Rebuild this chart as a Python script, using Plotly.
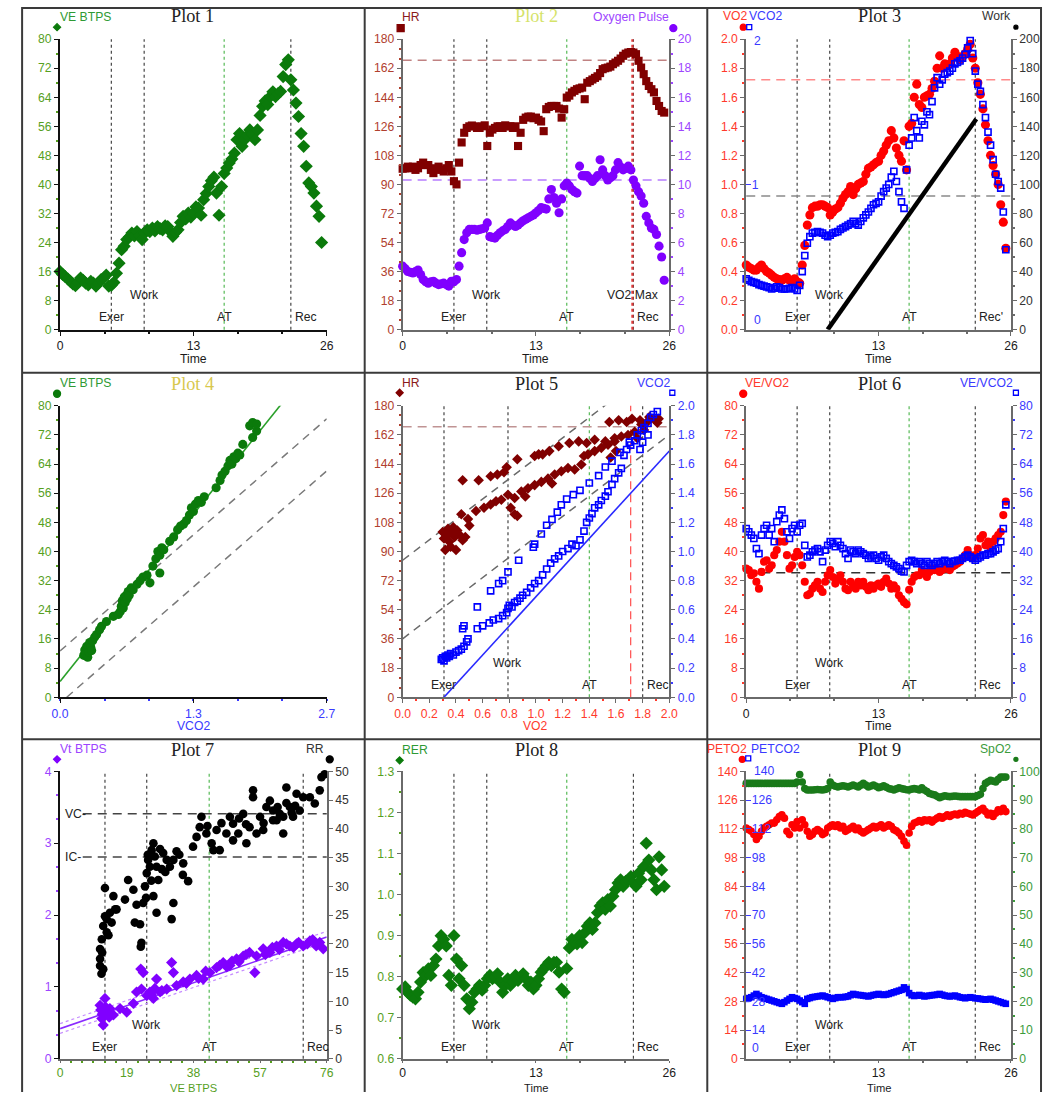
import plotly.graph_objects as go

# ---------------------------------------------------------------
# Cardiopulmonary exercise test, 9-panel summary
# ---------------------------------------------------------------

# sample times (min)
TIME = [
    0.0, 0.25, 0.5, 0.75, 1.0, 1.25, 1.5, 1.75, 2.0, 2.25, 2.5, 2.75,
    3.0, 3.25, 3.5, 3.75, 4.0, 4.25, 4.5, 4.75, 5.0, 5.25, 5.5, 5.75,
    6.0, 6.25, 6.5, 6.75, 7.0, 7.25, 7.5, 7.75, 8.0, 8.25, 8.5, 8.75,
    9.0, 9.25, 9.5, 9.75, 10.0, 10.25, 10.5, 10.75, 11.0, 11.25, 11.5, 11.75,
    12.0, 12.25, 12.5, 12.75, 13.0, 13.25, 13.5, 13.75, 14.0, 14.25, 14.5, 14.75,
    15.0, 15.25, 15.5, 15.75, 16.0, 16.25, 16.5, 16.75, 17.0, 17.25, 17.5, 17.75,
    18.0, 18.25, 18.5, 18.75, 19.0, 19.25, 19.5, 19.75, 20.0, 20.25, 20.5, 20.75,
    21.0, 21.25, 21.5, 21.75, 22.0, 22.25, 22.5, 22.75, 23.0, 23.25, 23.5, 23.75,
    24.0, 24.25, 24.5, 24.75, 25.0, 25.25, 25.5,
]

VE_BTPS = [
    16.0, 15.2, 14.6, 14.0, 13.3, 12.6, 12.1, 13.0, 14.2, 13.6, 12.8, 12.3,
    13.3, 12.8, 12.0, 12.8, 13.8, 14.2, 15.0, 12.0, 12.2, 13.0, 15.5, 18.3,
    22.0, 23.0, 24.8, 25.5, 26.6, 25.8, 27.0, 26.0, 24.8, 26.6, 27.5, 27.0,
    28.0, 27.2, 28.4, 27.8, 27.5, 28.6, 28.4, 27.0, 25.7, 26.8, 27.5, 29.5,
    31.2, 30.5, 32.1, 31.0, 32.0, 33.8, 33.5, 31.5, 35.8, 37.5, 39.4, 41.0,
    42.0, 37.6, 31.5, 39.4, 43.0, 44.5, 45.9, 47.0, 48.6, 52.3, 54.0, 50.5,
    52.3, 53.5, 55.0, 53.8, 52.3, 55.0, 59.0, 61.5, 63.0, 62.0, 64.2, 65.5,
    64.2, 65.0, 65.6, 69.7, 73.0, 74.3, 68.8, 66.0, 62.4, 58.7, 54.0, 50.5,
    45.0, 40.4, 39.4, 37.6, 34.0, 31.2, 24.0,
]

HR = [
    99.7, 100, 101, 100, 101, 99, 100, 102, 103.5, 102, 102, 99,
    97, 100, 101, 99, 98, 100, 102, 98, 92, 90, 103.5, 116,
    122, 125, 126, 126.5, 126, 125, 125, 126, 126.6, 113.8, 122, 124,
    125, 126, 126, 125, 126.6, 126, 126, 125, 126, 113.8, 122, 130,
    131.4, 132, 132, 131, 131.4, 130, 129, 123, 136.6, 138, 138.6, 138.6,
    138.6, 137, 131.4, 136.6, 143.8, 145, 147, 148, 149, 149.5, 150, 142.8,
    153, 154, 155, 156, 157, 159, 161.4, 162, 162.4, 163, 164.5, 165.5,
    166.6, 168, 169.7, 171, 171.7, 172, 171.7, 170.7, 166.6, 162.4, 158.3, 154,
    151, 149, 147, 141.7, 138.6, 135.5, 134.5,
]

O2_PULSE = [
    4.37, 4.2, 4.0, 3.95, 3.9, 4.0, 4.1, 3.8, 3.45, 3.3, 3.2, 3.3,
    3.33, 3.2, 3.1, 3.15, 3.2, 3.1, 3.0, 3.33, 3.3, 3.45, 4.37, 5.3,
    6.2, 6.67, 6.9, 6.9, 6.9, 6.85, 6.9, 6.95, 7.0, 7.35, 6.4, 6.35,
    6.3, 6.5, 6.67, 6.8, 6.9, 7.1, 7.35, 7.2, 7.1, 7.2, 7.35, 7.5,
    7.6, 7.7, 7.8, 7.9, 8.05, 8.2, 8.4, 8.35, 8.3, 9.0, 9.65, 9.1,
    8.7, 8.05, 9.0, 9.9, 10.1, 9.9, 9.65, 9.5, 9.4, 11.26, 10.6, 10.6,
    10.6, 10.4, 10.2, 10.4, 10.6, 11.7, 11.0, 10.6, 10.3, 10.45, 10.6, 11.0,
    11.5, 11.2, 11.0, 11.1, 11.26, 11.0, 10.3, 9.9, 9.5, 9.2, 8.7, 7.8,
    7.35, 7.0, 6.9, 6.55, 5.75, 5.0, 3.4,
]

VO2 = [
    0.445, 0.43, 0.42, 0.41, 0.41, 0.43, 0.445, 0.42, 0.40, 0.39, 0.375, 0.36,
    0.35, 0.345, 0.34, 0.35, 0.36, 0.34, 0.33, 0.35, 0.33, 0.32, 0.445, 0.58,
    0.72, 0.79, 0.84, 0.85, 0.85, 0.86, 0.86, 0.85, 0.84, 0.79, 0.81, 0.83,
    0.84, 0.87, 0.905, 0.93, 0.95, 0.985, 0.93, 0.97, 1.0, 1.01, 1.02, 1.07,
    1.11, 1.12, 1.135, 1.15, 1.16, 1.2, 1.23, 1.27, 1.30, 1.37, 1.32, 1.25,
    1.2, 1.16, 1.30, 1.10, 1.40, 1.42, 1.60, 1.69, 1.55, 1.53, 1.60, 1.61,
    1.62, 1.66, 1.71, 1.80, 1.885, 1.80, 1.83, 1.82, 1.83, 1.87, 1.91, 1.88,
    1.86, 1.88, 1.90, 1.93, 1.965, 1.87, 1.80, 1.70, 1.62, 1.52, 1.41, 1.30,
    1.20, 1.13, 1.07, 1.00, 0.86, 0.74, 0.56,
]

VCO2 = [
    0.35, 0.34, 0.33, 0.325, 0.32, 0.31, 0.305, 0.30, 0.295, 0.29, 0.28, 0.285,
    0.295, 0.29, 0.28, 0.28, 0.28, 0.285, 0.29, 0.28, 0.27, 0.305, 0.40, 0.51,
    0.595, 0.64, 0.665, 0.67, 0.675, 0.67, 0.665, 0.65, 0.64, 0.65, 0.665, 0.67,
    0.675, 0.69, 0.70, 0.71, 0.72, 0.73, 0.745, 0.73, 0.72, 0.745, 0.77, 0.79,
    0.81, 0.835, 0.86, 0.87, 0.88, 0.92, 0.95, 0.975, 1.0, 1.05, 1.09, 1.02,
    0.95, 0.88, 0.835, 1.10, 1.27, 1.32, 1.46, 1.37, 1.32, 1.435, 1.41, 1.50,
    1.48, 1.57, 1.665, 1.735, 1.69, 1.72, 1.76, 1.77, 1.78, 1.80, 1.83, 1.84,
    1.85, 1.87, 1.895, 1.94, 1.99, 1.90, 1.78, 1.69, 1.64, 1.55, 1.46, 1.36,
    1.27, 1.17, 1.07, 1.02, 0.975, 0.81, 0.55,
]

# protocol work ramp (min, W)
WORK_T = [8.0, 22.6]
WORK_W = [0, 145]

VE_VO2 = [
    35.3, 34.9, 33.5, 34.0, 31.7, 29.8, 34.4, 37.2, 37.6, 35.3, 36.2, 39.0,
    40.4, 42.7, 45.4, 42.7, 39.0, 35.3, 36.2, 38.5, 39.9, 39.0, 36.2, 31.7,
    28.0, 28.4, 29.8, 30.7, 31.7, 29.8, 28.9, 31.7, 33.5, 34.9, 33.0, 31.2,
    32.6, 33.5, 31.7, 29.8, 29.4, 31.7, 30.7, 29.8, 31.7, 30.7, 31.7, 30.3,
    29.4, 30.7, 29.8, 30.7, 31.2, 30.3, 31.7, 32.6, 31.2, 29.8, 30.7, 29.8,
    28.0, 27.0, 26.1, 25.5, 29.5, 31.7, 33.0, 33.5, 33.5, 34.9, 34.0, 33.0,
    34.4, 35.3, 34.9, 35.3, 34.4, 34.9, 35.8, 35.3, 34.9, 35.8, 36.2, 36.7,
    37.2, 38.1, 39.0, 40.4, 39.0, 38.1, 39.0, 40.8, 43.6, 44.5, 41.7, 42.7,
    40.8, 42.7, 43.6, 44.5, 45.4, 50.0, 53.7,
]

VE_VCO2 = [
    46.3, 45.4, 44.5, 43.6, 40.8, 39.4, 44.5, 46.3, 47.2, 44.5, 46.3, 42.7,
    48.2, 50.0, 51.4, 49.0, 45.4, 43.6, 46.3, 47.2, 45.4, 47.2, 47.7, 41.7,
    38.5, 39.0, 39.9, 40.4, 40.8, 39.9, 37.2, 40.4, 41.7, 42.7, 42.2, 41.3,
    42.7, 41.7, 40.8, 39.4, 38.1, 40.4, 39.9, 39.4, 40.4, 39.9, 39.4, 39.0,
    38.1, 38.5, 39.0, 38.1, 37.6, 38.5, 39.0, 38.1, 37.2, 36.7, 36.2, 35.8,
    35.3, 34.6, 34.4, 36.2, 37.2, 37.6, 37.2, 36.7, 37.2, 36.7, 36.2, 37.2,
    36.7, 36.2, 36.7, 37.2, 36.7, 37.2, 37.6, 37.2, 36.7, 37.2, 37.4, 37.6,
    37.6, 38.1, 38.5, 39.0, 38.5, 38.1, 37.6, 38.1, 38.5, 39.0, 39.0, 39.4,
    39.4, 39.9, 40.4, 40.8, 42.7, 46.3, 52.8,
]

RER = [
    0.770, 0.775, 0.762, 0.755, 0.750, 0.746, 0.762, 0.787, 0.810, 0.803, 0.819, 0.803,
    0.827, 0.843, 0.875, 0.900, 0.891, 0.875, 0.803, 0.779, 0.900, 0.843, 0.795, 0.827,
    0.779, 0.746, 0.722, 0.738, 0.762, 0.770, 0.779, 0.767, 0.779, 0.795, 0.803, 0.795,
    0.799, 0.807, 0.787, 0.762, 0.779, 0.795, 0.779, 0.787, 0.803, 0.791, 0.799, 0.807,
    0.795, 0.779, 0.787, 0.770, 0.779, 0.795, 0.811, 0.819, 0.827, 0.835, 0.827, 0.835,
    0.835, 0.811, 0.770, 0.762, 0.820, 0.870, 0.891, 0.883, 0.880, 0.900, 0.883, 0.907,
    0.923, 0.931, 0.915, 0.931, 0.956, 0.972, 0.980, 0.964, 0.988, 0.972, 0.996, 1.012,
    1.028, 1.036, 1.020, 1.032, 1.036, 1.044, 1.028, 1.020, 1.052, 1.036, 1.068, 1.125,
    1.084, 1.060, 1.036, 1.012, 1.092, 1.060, 1.020,
]

PETO2 = [
    112.4, 111.6, 110.8, 109.2, 106.8, 108.4, 110.8, 112.4, 113.2, 114.0, 114.8, 114.8,
    116.4, 118.0, 118.8, 117.2, 110.8, 109.2, 114.0, 112.4, 115.6, 112.4, 116.4, 114.0,
    110.8, 108.4, 109.2, 110.8, 111.6, 110.8, 109.2, 110.0, 112.4, 113.2, 114.0, 113.2,
    114.0, 112.4, 113.2, 110.8, 111.6, 112.4, 113.2, 111.6, 112.4, 110.8, 110.0, 110.8,
    111.6, 112.4, 113.2, 112.4, 113.2, 114.0, 112.4, 113.2, 114.0, 113.2, 111.6, 111.0,
    110.0, 108.4, 106.0, 104.0, 110.0, 113.2, 114.8, 115.3, 116.0, 115.3, 116.4, 116.0,
    116.4, 115.3, 116.4, 117.2, 118.0, 117.2, 118.0, 118.8, 118.0, 118.8, 119.2, 118.8,
    119.6, 119.2, 120.0, 119.6, 119.2, 118.8, 119.6, 120.4, 121.3, 122.0, 120.4, 118.8,
    119.6, 118.0, 119.6, 121.3, 120.4, 122.0, 120.4,
]

PETCO2 = [
    29.2, 29.6, 30.0, 30.8, 31.6, 30.8, 30.0, 29.6, 29.2, 28.8, 28.4, 28.0,
    27.6, 27.2, 26.8, 27.6, 28.4, 29.2, 30.0, 29.6, 29.2, 28.4, 27.6, 26.8,
    29.2, 29.6, 30.0, 30.2, 30.4, 30.6, 30.8, 30.4, 30.0, 29.6, 29.2, 29.6,
    30.0, 30.0, 30.0, 30.2, 30.4, 31.0, 31.6, 31.3, 31.1, 31.0, 30.8, 30.6,
    30.4, 30.8, 31.1, 31.3, 31.6, 31.3, 31.1, 31.3, 31.6, 32.0, 32.4, 32.8,
    33.2, 33.6, 34.8, 34.0, 32.0, 31.0, 30.6, 30.8, 31.1, 30.8, 30.4, 30.6,
    30.8, 31.0, 31.1, 31.3, 31.6, 31.2, 30.8, 30.6, 30.4, 30.6, 30.8, 30.4,
    30.0, 29.8, 29.5, 29.8, 30.0, 29.8, 29.5, 29.4, 29.2, 29.0, 28.8, 29.0,
    29.2, 28.8, 28.4, 28.0, 27.6, 27.2, 26.8,
]

SPO2 = [
    95.8, 95.8, 95.8, 95.8, 95.8, 95.8, 95.8, 95.8, 95.8, 95.8, 95.8, 95.8,
    95.8, 95.8, 95.8, 95.8, 95.8, 95.8, 95.8, 95.8, 96.3, 98.9, 96.3, 94.0,
    93.5, 93.5, 93.5, 93.6, 93.7, 93.6, 93.5, 93.7, 94.0, 96.3, 95.2, 94.8,
    94.6, 94.8, 95.0, 94.8, 94.6, 94.9, 95.2, 94.9, 94.6, 95.2, 95.8, 95.2,
    94.6, 94.9, 95.2, 94.8, 94.3, 94.6, 95.0, 94.5, 94.0, 93.8, 93.5, 93.9,
    94.3, 94.0, 93.8, 93.6, 93.5, 93.8, 94.0, 93.8, 93.5, 94.3, 93.5, 93.0,
    92.3, 92.0, 91.8, 91.3, 90.8, 91.2, 91.5, 91.3, 91.2, 91.3, 91.4, 91.3,
    91.2, 91.2, 91.2, 91.2, 91.2, 91.2, 91.2, 91.6, 92.0, 94.0, 95.8, 96.4,
    96.9, 96.6, 96.3, 97.2, 98.0, 98.0, 98.0,
]

# Plot 4: VE vs VCO2
P4_VCO2 = [
    0.24, 0.25, 0.26, 0.27, 0.28, 0.28, 0.29, 0.30, 0.31, 0.32, 0.33, 0.35,
    0.37, 0.40, 0.42, 0.47, 0.54, 0.59, 0.61, 0.62, 0.63, 0.64, 0.65, 0.66,
    0.67, 0.68, 0.69, 0.70, 0.72, 0.74, 0.78, 0.81, 0.84, 0.88, 0.91, 1.01,
    0.94, 0.97, 0.99, 1.01, 1.03, 1.05, 1.11, 1.15, 1.19, 1.22, 1.25, 1.28,
    1.31, 1.33, 1.35, 1.37, 1.40, 1.43, 1.46, 1.58, 1.62, 1.64, 1.67, 1.70,
    1.72, 1.74, 1.76, 1.78, 1.80, 1.82, 1.85, 1.95, 1.99, 1.92, 1.95, 1.99,
]
P4_VE = [
    11.5, 13.0, 12.0, 14.0, 11.0, 13.5, 12.5, 15.0, 13.8, 12.8, 15.5, 16.5,
    17.2, 18.5, 19.5, 20.8, 22.2, 22.7, 23.5, 25.0, 26.5, 24.5, 27.5, 26.0,
    28.0, 27.0, 29.0, 28.0, 30.0, 29.5, 31.0, 32.0, 33.0, 33.5, 31.4, 34.1,
    36.0, 38.0, 40.0, 39.0, 41.0, 40.5, 42.8, 44.0, 46.0, 47.0, 47.5, 48.5,
    50.0, 52.0, 51.0, 53.0, 54.0, 53.5, 55.0, 57.5, 59.5, 61.0, 62.0, 63.5,
    65.0, 64.0, 66.0, 65.5, 67.0, 66.5, 69.4, 71.3, 73.1, 74.5, 75.4, 75.0,
]
P4_FIT = (4.3, 34.0)          # intercept, slope of VE/VCO2 fit
P4_FIT_END = 2.34
P4_BANDS = [(12.7, 23.6), (-1.6, 23.6)]

# Plot 5: HR and VCO2 vs VO2
P5_HR_VO2 = [
    0.30, 0.31, 0.32, 0.33, 0.34, 0.35, 0.36, 0.37, 0.38, 0.39, 0.40, 0.41,
    0.43, 0.45, 0.47, 0.50,
    0.45, 0.57, 0.66, 0.71, 0.76, 0.78, 0.86, 0.99, 1.02, 1.05, 1.10, 1.17,
    1.25, 1.32, 1.38, 1.44, 1.52, 1.59,
    0.49, 0.44, 0.55, 0.61, 0.66, 0.70, 0.74, 0.79, 0.81, 0.84, 0.86, 0.84,
    0.89, 0.92, 0.94, 0.99, 1.04, 1.09, 1.12, 1.14, 1.19, 1.24, 1.29, 1.34,
    1.36, 1.39, 1.44, 1.49, 1.54, 1.59, 1.64, 1.69, 1.74, 1.79, 1.84, 1.89,
    1.91, 1.81, 1.76, 1.56, 1.60,
    1.55, 1.62, 1.68, 1.72, 1.78, 1.85, 1.92,
]
P5_HR = [
    102, 98, 91, 100, 104, 96, 93, 101, 105, 99, 91, 103,
    100, 97, 99, 106,
    134, 134, 136.5, 137.5, 139, 142, 147, 149, 150, 150, 152, 155,
    157, 158, 157, 159, 158, 160,
    110, 113, 115, 117, 119, 121, 122, 125, 117, 113, 112, 123,
    127, 124, 129, 131, 133, 135, 132, 137.5, 139.6, 141.6, 140.6, 143.7,
    149, 150, 152, 154, 156, 158, 161, 162, 164, 168.5, 170.5, 171.5,
    169.5, 165, 160, 148, 152,
    170, 171, 170, 172, 171, 173, 172,
]
P5_VCO2_VO2 = [
    0.29, 0.30, 0.31, 0.32, 0.33, 0.34, 0.35, 0.36, 0.38, 0.40, 0.42, 0.44,
    0.46, 0.48, 0.49, 0.45, 0.46,
    0.56, 0.60, 0.65, 0.68, 0.72, 0.75, 0.78, 0.79, 0.80, 0.82, 0.84, 0.86,
    0.88, 0.90, 0.93, 0.96, 0.99, 1.02, 1.05, 1.08, 1.11, 1.14, 1.17, 1.20,
    1.24, 1.27, 1.30, 1.33, 1.36, 1.38, 1.40, 1.42, 1.44, 1.47, 1.49, 1.52,
    1.54, 1.57, 1.59, 1.62, 1.64, 1.66, 1.68, 1.71, 1.74, 1.76, 1.79, 1.81,
    1.84, 1.86, 1.88, 1.91, 1.84, 1.80, 1.78,
    0.56, 0.66, 0.72, 0.75, 0.79, 0.87, 0.98, 0.99, 1.04, 1.08, 1.12, 1.16,
    1.19, 1.23, 1.28, 1.33, 1.40, 1.47, 1.52, 1.57, 1.63, 1.70,
]
P5_VCO2 = [
    0.26, 0.27, 0.25, 0.28, 0.27, 0.29, 0.28, 0.30, 0.29, 0.31, 0.32, 0.33,
    0.35, 0.38, 0.40, 0.47, 0.49,
    0.47, 0.49, 0.51, 0.53, 0.54, 0.56, 0.58, 0.61, 0.63, 0.62, 0.65, 0.66,
    0.68, 0.70, 0.72, 0.75, 0.78, 0.80, 0.84, 0.88, 0.92, 0.95, 0.97, 1.00,
    1.02, 1.05, 1.04, 1.08, 1.14, 1.20, 1.23, 1.26, 1.30, 1.32, 1.35, 1.38,
    1.41, 1.46, 1.50, 1.54, 1.57, 1.66, 1.70, 1.73, 1.76, 1.80, 1.83, 1.85,
    1.88, 1.92, 1.94, 1.96, 1.80, 1.75, 1.70,
    0.62, 0.73, 0.78, 0.80, 0.86, 0.94, 1.03, 1.05, 1.12, 1.18, 1.22, 1.27,
    1.32, 1.36, 1.39, 1.42, 1.47, 1.52, 1.58, 1.62, 1.68, 1.75,
]
P5_HR_BANDS = [(84.6, 63.0), (36.1, 63.0)]
P5_VCO2_LINE = (-0.31, 1.0)
P5_VCO2_LINE_START = 0.29

# Plot 7: Vt and RR vs VE
P7_RR_VE = [
    11.4, 11.4, 11.9, 12.3, 12.8, 13.3, 14.2, 12.8, 15.2, 15.7, 11.4, 12.3,
    13.3, 14.7, 12.0, 13.8, 11.8,
    16.1, 18.5, 19.4, 20.9, 21.8, 21.3, 22.8, 23.2, 23.0, 23.7, 24.2, 24.7,
    25.1, 25.6, 26.1, 26.6, 27.0, 27.5, 28.0, 26.6, 27.5, 29.4, 30.4, 31.3,
    32.3, 32.3, 31.8, 33.2, 35.1, 36.5, 37.9, 38.9, 39.8, 40.3, 41.7, 43.2,
    44.6, 45.5, 47.4, 48.4, 49.3, 50.8, 52.2, 53.1, 54.0, 55.0, 55.0, 56.0,
    57.9, 58.8, 59.8, 60.7, 61.7, 62.6, 63.6, 64.5, 65.5, 66.4, 67.4, 68.3,
    69.3, 71.2, 72.6, 74.0, 74.5, 75.4, 63.6, 60.7, 57.0, 49.3, 43.7, 29.0,
    30.0, 28.5, 34.0, 25.0, 26.0, 24.5, 35.0, 42.0, 46.0, 51.0, 53.0, 58.0,
    62.0, 64.5, 66.0, 67.0,
]
P7_RR = [
    16.2, 19.1, 20.8, 23.1, 24.8, 24.3, 25.4, 29.7, 28.3, 26.0, 17.4, 15.6,
    22.0, 23.7, 18.5, 21.5, 14.8,
    26.0, 27.7, 31.1, 29.4, 26.8, 23.7, 23.4, 20.2, 19.5, 27.1, 30.0, 32.3,
    34.6, 33.4, 36.3, 37.5, 35.2, 33.4, 31.1, 28.3, 25.4, 35.8, 34.6, 33.4,
    34.6, 27.1, 24.3, 36.1, 34.0, 30.9, 36.9, 38.6, 40.3, 42.1, 39.2, 37.5,
    39.8, 36.3, 39.2, 42.1, 40.9, 39.2, 42.6, 37.5, 40.3, 46.7, 45.5, 39.2,
    39.8, 43.8, 44.9, 43.2, 41.5, 42.6, 39.2, 47.2, 43.8, 42.1, 46.1, 43.2,
    45.5, 45.5, 44.4, 46.7, 49.0, 49.5, 42.1, 41.5, 42.1, 38.0, 36.3, 33.0,
    32.5, 36.5, 35.5, 35.5, 31.0, 28.0, 32.0, 40.5, 41.0, 41.8, 40.8, 41.0,
    43.8, 44.5, 42.8, 44.0,
]
P7_VT_VE = [
    11.4, 11.9, 12.3, 12.8, 13.3, 14.2, 15.2, 12.0, 13.0, 11.6, 14.0, 17.1,
    19.0, 20.9, 21.8, 23.2, 23.7, 23.0, 24.7, 25.6, 26.6, 27.5, 28.5, 26.0,
    27.0, 29.0, 30.4, 31.8, 32.3, 33.2, 35.1, 37.0, 38.9, 40.8, 42.7, 44.6,
    46.5, 48.4, 50.3, 52.2, 54.0, 55.5, 56.0, 57.9, 59.8, 61.7, 63.6, 65.5,
    67.4, 69.3, 71.2, 73.0, 75.0, 36.0, 39.5, 41.5, 45.5, 47.5, 49.0, 51.0,
    53.0, 58.5, 60.5, 62.5, 64.5, 66.5, 68.0, 70.5, 72.0, 74.0,
]
P7_VT = [
    0.745, 0.56, 0.47, 0.84, 0.65, 0.70, 0.61, 0.62, 0.72, 0.68, 0.58, 0.70,
    0.65, 0.77, 0.93, 0.97, 1.20, 1.25, 0.88, 0.93, 0.84, 1.11, 0.93, 0.90,
    0.98, 0.95, 0.97, 1.34, 1.20, 1.02, 1.07, 1.11, 1.16, 1.11, 1.20, 1.27,
    1.34, 1.30, 1.39, 1.43, 1.48, 1.20, 1.43, 1.53, 1.48, 1.57, 1.62, 1.57,
    1.60, 1.57, 1.64, 1.57, 1.53, 1.05, 1.12, 1.22, 1.30, 1.28, 1.36, 1.35,
    1.45, 1.45, 1.55, 1.52, 1.60, 1.55, 1.62, 1.60, 1.66, 1.62,
]
P7_VT_FIT = (0.42, 0.0168)
P7_VT_CI = [(0.49, 0.0169), (0.354, 0.0168)]
VC_LEVEL = 3.41
IC_LEVEL = 2.81

# event markers
EV_TIME = {"Exer": 5.0, "Work": 8.2, "AT": 16.0, "Rec": 22.5}
VO2MAX_TIME = 22.4
EV_VO2 = {"Exer": 0.31, "Work": 0.79, "AT": 1.40, "Rec": 1.80}
VO2MAX_VO2 = 1.71
EV_VE = {"Exer": 12.8, "Work": 24.7, "AT": 42.5, "Rec": 69.3}

HR_PRED = 167
O2P_PRED = 10.3
VO2_PRED = 1.72
VCO2_REF = 0.92
VEQ_REF = 34.2

# ---------------------------------------------------------------
# Layout positions are written in screen pixels of the finished page.
# The page body keeps an 8px margin and the whole page is viewed at
# (page size) -> (screen size), so positions are mapped through KX/KY.
W, H = 1051, 1099
OFF = 8
KX = (W + 2 * OFF) / W
KY = (H + 2 * OFF) / H
S = KX                      # size factor for fonts and markers

COLS = [(60, 327), (403, 670), (747, 1012)]
ROWS = [(40, 330), (406, 697), (771, 1058)]
FONT = "Liberation Sans, Arial, Helvetica, sans-serif"
SERIF = "Liberation Serif, Times New Roman, serif"
FS = 12 * S

GREEN_TXT = "#56a01e"
GREEN_HDR = "#2f9a34"
BROWN_TXT = "#b0402e"
PURPLE_TXT = "#9d45ff"
RED_TXT = "#ff3a2c"
BLUE_TXT = "#3a3aff"
DARK = "#333333"
AXGRAY = "#6a6a6a"

M_GREEN = "#0b7a0b"
M_HR = "#800000"
M_PURPLE = "#8000ff"
M_RED = "#ff0000"
M_BLUE = "#0000ff"

fig = go.Figure()
layout_axes = {}
shapes = []
annotations = []


def fx(x):
    return min(1.0, max(0.0, (x * KX - OFF) / W))


def fy(y):
    return min(1.0, max(0.0, 1 - (y * KY - OFF) / H))


def xr(p):
    return "x" if p == 1 else f"x{p}"


def yr(p):
    return "y" if p == 1 else f"y{p}"


def key(ref):
    return ref[0] + "axis" + ref[1:]


def xdom(p):
    c = (p - 1) % 3
    return [fx(COLS[c][0]), fx(COLS[c][1])]


def ydom(p):
    r = (p - 1) // 3
    return [fy(ROWS[r][1]), fy(ROWS[r][0])]


def axis(linecolor, labelcolor, **kw):
    d = dict(showgrid=False, zeroline=False, showline=True, linewidth=2,
             linecolor=linecolor, ticks="outside", ticklen=4, tickwidth=1,
             tickcolor=linecolor,
             tickfont=dict(family=FONT, size=FS, color=labelcolor),
             fixedrange=True)
    d.update(kw)
    return d


def minor(dtick, color, tick0=0):
    return dict(ticks="outside", ticklen=2, tickwidth=1.5, tickcolor=color,
                dtick=dtick, tick0=tick0)


def set_x(p, **kw):
    if p >= 7:
        kw["ticklen"] = 2      # bottom row sits close to the page edge
    layout_axes[key(xr(p))] = dict(kw, domain=xdom(p), anchor=yr(p))


def set_y(p, **kw):
    layout_axes[key(yr(p))] = dict(kw, domain=ydom(p), anchor=xr(p))


def set_y2(p, n, side, **kw):
    layout_axes[f"yaxis{n}"] = dict(kw, overlaying=yr(p), anchor=xr(p), side=side)


def time_x(p, lc):
    set_x(p, **axis(lc, "#1a1a1a", range=[0, 26], tick0=0, dtick=13,
                    minor=minor(13 / 3, lc)))


def pts(p, x, y, yaxis=None, symbol="circle", color="#000", size=7, lw=0):
    n = min(len(x), len(y))
    fig.add_trace(go.Scatter(
        x=x[:n], y=y[:n], mode="markers", xaxis=xr(p), yaxis=yaxis or yr(p),
        cliponaxis=False, hoverinfo="skip", showlegend=False,
        marker=dict(symbol=symbol, size=size * S, color=color,
                    line=dict(width=lw, color=color))))


def fit_line(p, x0, x1, a, b, color, width=1.5, dash="solid", yaxis=None):
    xs = [x0, x1]
    ys = [a + b * v for v in xs]
    fig.add_trace(go.Scatter(
        x=xs, y=ys, mode="lines", xaxis=xr(p), yaxis=yaxis or yr(p),
        hoverinfo="skip", showlegend=False,
        line=dict(color=color, width=width, dash=dash)))


def vline(p, x, color="#444", dash="3px,3px", width=1.2):
    shapes.append(dict(type="line", xref=xr(p), yref=yr(p) + " domain",
                       x0=x, x1=x, y0=0, y1=1, layer="below",
                       line=dict(color=color, dash=dash, width=width)))


def hline(p, yref, y, color, dash="9px,6px", width=1.5, x0=0):
    shapes.append(dict(type="line", xref=xr(p) + " domain", yref=yref,
                       x0=x0, x1=1, y0=y, y1=y, layer="below",
                       line=dict(color=color, dash=dash, width=width)))


LOW, HIGH = 0.042, 0.118


def ev_label(p, x, text, level, anchor="center"):
    annotations.append(dict(
        xref=xr(p), yref=yr(p) + " domain", x=x, y=level, text=text,
        showarrow=False, xanchor=anchor, yanchor="middle",
        xshift=2 if anchor == "left" else 0,
        font=dict(family=FONT, size=FS, color="#222")))


def events(p, ev, rec_text="Rec"):
    vline(p, ev["Exer"])
    vline(p, ev["Work"])
    vline(p, ev["AT"], color="#55b955")
    vline(p, ev["Rec"])
    ev_label(p, ev["Exer"], "Exer", LOW)
    ev_label(p, ev["Work"], "Work", HIGH)
    ev_label(p, ev["AT"], "AT", LOW)
    ev_label(p, ev["Rec"], rec_text, LOW, anchor="left")


def text(x, y, s, color, size=12, anchor="left", family=FONT):
    annotations.append(dict(xref="paper", yref="paper", x=fx(x), y=fy(y),
                            text=s, showarrow=False, xanchor=anchor,
                            yanchor="middle",
                            font=dict(family=family, size=size * S,
                                      color=color)))


def glyph(kind, cx, cy, color, s=3.5, filled=True):
    x0, x1 = fx(cx - s), fx(cx + s)
    y0, y1 = fy(cy + s), fy(cy - s)
    fill = color if filled else "white"
    ln = dict(color=color, width=1.3)
    if kind == "circle":
        shapes.append(dict(type="circle", xref="paper", yref="paper",
                           x0=x0, x1=x1, y0=y0, y1=y1, fillcolor=fill, line=ln))
    elif kind == "square":
        shapes.append(dict(type="rect", xref="paper", yref="paper",
                           x0=x0, x1=x1, y0=y0, y1=y1, fillcolor=fill, line=ln))
    else:
        xm, ym = fx(cx), fy(cy)
        path = (f"M {xm},{y1} L {x1},{ym} L {xm},{y0} L {x0},{ym} Z")
        shapes.append(dict(type="path", xref="paper", yref="paper", path=path,
                           fillcolor=fill, line=ln))


def title(p, s, color="#222"):
    c = (p - 1) % 3
    r = (p - 1) // 3
    cx = [193, 537, 880][c]
    cy = [17, 384, 750][r]
    text(cx, cy, s, color, size=18, anchor="center", family=SERIF)


def xtitle(p, s, color="#1a1a1a"):
    c = (p - 1) % 3
    r = (p - 1) // 3
    cx = (COLS[c][0] + COLS[c][1]) / 2
    if r < 2:
        text(cx, ROWS[r][1] + 29, s, color, anchor="center")
    else:
        text(cx, 1087, s, color, size=11, anchor="center")


# ---------------- Plot 1: VE vs time ----------------
time_x(1, "#111")
set_y(1, **axis("#111", GREEN_TXT, range=[0, 80], dtick=8,
                 minor=minor(4, GREEN_TXT)))
events(1, EV_TIME)
pts(1, TIME, VE_BTPS, symbol="diamond", color=M_GREEN, size=10)
title(1, "Plot 1")
text(58, 18, "VE BTPS", GREEN_HDR)
glyph("diamond", 57, 28, M_GREEN)
xtitle(1, "Time")

# ---------------- Plot 2: HR and O2 pulse ----------------
time_x(2, AXGRAY)
set_y(2, **axis(AXGRAY, BROWN_TXT, range=[0, 180], dtick=18,
                 minor=minor(6, BROWN_TXT)))
set_y2(2, 10, "right", **axis(AXGRAY, PURPLE_TXT, range=[0, 20], dtick=2,
                               minor=minor(1, PURPLE_TXT)))
events(2, EV_TIME)
vline(2, VO2MAX_TIME, color="#e03a3a", dash="3px,3px", width=2.2)
ev_label(2, VO2MAX_TIME, "VO2 Max", HIGH)
hline(2, "y2", HR_PRED, "#c08282")
hline(2, "y10", O2P_PRED, "#b77cff")
pts(2, TIME, HR, symbol="square", color=M_HR, size=8)
pts(2, TIME, O2_PULSE, yaxis="y10", symbol="circle", color=M_PURPLE, size=9)
title(2, "Plot 2", color="#d5e36a")
text(400, 18, "HR", "#8b1a1a")
glyph("square", 401, 29, M_HR)
text(672, 18, "Oxygen Pulse", PURPLE_TXT, anchor="right")
glyph("circle", 674, 29, M_PURPLE)
xtitle(2, "Time")

# ---------------- Plot 3: VO2, VCO2 and work ----------------
time_x(3, AXGRAY)
set_y(3, **axis(AXGRAY, RED_TXT, range=[0, 2.0], dtick=0.2, tickformat=".1f",
                 minor=minor(0.1, RED_TXT)))
set_y2(3, 12, "left", showgrid=False, zeroline=False, showline=False,
       range=[0, 2.0], tickvals=[1, 2], ticks="inside", ticklen=5,
       tickcolor=BLUE_TXT, ticklabelposition="inside", fixedrange=True,
       tickfont=dict(family=FONT, size=FS, color=BLUE_TXT))
set_y2(3, 11, "right", **axis(AXGRAY, DARK, range=[0, 200], dtick=20,
                               minor=minor(10, AXGRAY)))
events(3, EV_TIME, rec_text="Rec'")
hline(3, "y3", VO2_PRED, "#ff8a8a")
hline(3, "y3", VCO2_REF, "#8a8a8a")
fig.add_trace(go.Scatter(x=WORK_T, y=WORK_W, mode="lines", xaxis="x3",
                         yaxis="y11", hoverinfo="skip", showlegend=False,
                         line=dict(color="#000", width=4.5)))
pts(3, TIME, VO2, symbol="circle", color=M_RED, size=9)
pts(3, TIME, VCO2, yaxis="y12", symbol="square-open", color=M_BLUE, size=6,
    lw=1.6)
title(3, "Plot 3")
text(722, 17, "VO2", RED_TXT)
text(748, 17, "VCO2", BLUE_TXT)
glyph("circle", 744, 28, M_RED, s=3)
glyph("square", 750, 28, M_BLUE, s=2.5, filled=False)
text(753, 320, "0", BLUE_TXT)
text(753, 42, "2", BLUE_TXT)
text(1014, 17, "Work", DARK, anchor="right")
glyph("circle", 1017, 28, "#000", s=2)
xtitle(3, "Time")

# ---------------- Plot 4: VE vs VCO2 ----------------
set_x(4, **axis("#111", BLUE_TXT, range=[0, 2.7], tickvals=[0, 1.35, 2.7],
                ticktext=["0.0", "1.3", "2.7"], minor=minor(0.45, BLUE_TXT)))
set_y(4, **axis("#111", GREEN_TXT, range=[0, 80], dtick=8,
                 minor=minor(4, GREEN_TXT)))
for a, b in P4_BANDS:
    fit_line(4, max(0.0, -a / b), 2.7, a, b, "#7a7a7a", dash="8px,6px")
fit_line(4, 0.0, P4_FIT_END, P4_FIT[0], P4_FIT[1], "#2aa02a", width=1.6)
pts(4, P4_VCO2, P4_VE, symbol="circle", color=M_GREEN, size=9)
title(4, "Plot 4", color="#d8c84e")
text(58, 383, "VE BTPS", GREEN_HDR)
glyph("circle", 57, 394, M_GREEN)
xtitle(4, "VCO2", BLUE_TXT)

# ---------------- Plot 5: HR, VCO2 vs VO2 ----------------
set_x(5, **axis(AXGRAY, RED_TXT, range=[0, 2.0], dtick=0.2, tickformat=".1f",
                minor=minor(0.1, RED_TXT)))
set_y(5, **axis(AXGRAY, BROWN_TXT, range=[0, 180], dtick=18,
                 minor=minor(6, BROWN_TXT)))
set_y2(5, 13, "right", **axis(AXGRAY, BLUE_TXT, range=[0, 2.0], dtick=0.2,
                               tickformat=".1f", minor=minor(0.1, BLUE_TXT)))
events(5, EV_VO2)
vline(5, VO2MAX_VO2, color="#ff5a5a", dash="8px,5px", width=1.3)
hline(5, "y5", HR_PRED, "#c09393")
for a, b in P5_HR_BANDS:
    fit_line(5, 0.0, 2.0, a, b, "#6a6a6a", dash="8px,6px")
fit_line(5, P5_VCO2_LINE_START, 2.0, P5_VCO2_LINE[0], P5_VCO2_LINE[1],
         "#2a2aff", width=1.6, yaxis="y13")
pts(5, P5_HR_VO2, P5_HR, symbol="diamond", color=M_HR, size=8)
pts(5, P5_VCO2_VO2, P5_VCO2, yaxis="y13", symbol="square-open", color=M_BLUE,
    size=6, lw=1.6)
title(5, "Plot 5")
text(400, 383, "HR", "#8b1a1a")
glyph("diamond", 400, 393, M_HR)
text(673, 383, "VCO2", BLUE_TXT, anchor="right")
glyph("square", 673, 393, M_BLUE, s=2.5, filled=False)
xtitle(5, "VO2", RED_TXT)

# ---------------- Plot 6: ventilatory equivalents ----------------
time_x(6, AXGRAY)
set_y(6, **axis(AXGRAY, RED_TXT, range=[0, 80], dtick=8,
                 minor=minor(4, RED_TXT)))
set_y2(6, 14, "right", **axis(AXGRAY, BLUE_TXT, range=[0, 80], dtick=8,
                               minor=minor(4, BLUE_TXT)))
events(6, EV_TIME)
hline(6, "y6", VEQ_REF, "#333")
pts(6, TIME, VE_VO2, symbol="circle", color=M_RED, size=8)
pts(6, TIME, VE_VCO2, yaxis="y14", symbol="square-open", color=M_BLUE, size=6,
    lw=1.6)
title(6, "Plot 6")
text(744, 383, "VE/VO2", RED_TXT)
glyph("circle", 744, 394, M_RED)
text(1016, 383, "VE/VCO2", BLUE_TXT, anchor="right")
glyph("square", 1017, 393, M_BLUE, s=2.5, filled=False)
xtitle(6, "Time")

# ---------------- Plot 7: Vt and RR vs VE ----------------
set_x(7, **axis(AXGRAY, GREEN_TXT, range=[0, 76], dtick=19,
                minor=minor(19 / 6, GREEN_TXT)))
set_y(7, **axis("#111", PURPLE_TXT, range=[0, 4], dtick=1,
                 minor=minor(1 / 3, PURPLE_TXT)))
set_y2(7, 15, "right", **axis(AXGRAY, DARK, range=[0, 50], dtick=5))
events(7, EV_VE)
hline(7, "y7", VC_LEVEL, "#444", x0=0.085)
hline(7, "y7", IC_LEVEL, "#444", x0=0.085)
annotations.append(dict(xref="x7 domain", yref="y7", x=0.012, y=VC_LEVEL,
                        text="VC-", showarrow=False, xanchor="left",
                        yanchor="middle",
                        font=dict(family=FONT, size=FS, color="#222")))
annotations.append(dict(xref="x7 domain", yref="y7", x=0.012, y=IC_LEVEL,
                        text="IC-", showarrow=False, xanchor="left",
                        yanchor="middle",
                        font=dict(family=FONT, size=FS, color="#222")))
for a, b in P7_VT_CI:
    fit_line(7, 0, 76, a, b, "#c58cff", width=1.2, dash="dot")
fit_line(7, 0, 76, P7_VT_FIT[0], P7_VT_FIT[1], "#8a2aff", width=1.6)
pts(7, P7_RR_VE, P7_RR, yaxis="y15", symbol="circle", color="#000", size=8.5)
pts(7, P7_VT_VE, P7_VT, symbol="diamond", color=M_PURPLE, size=8.5)
title(7, "Plot 7")
text(58, 749, "Vt BTPS", PURPLE_TXT)
glyph("diamond", 57, 759, M_PURPLE)
text(326, 749, "RR", DARK, anchor="right")
glyph("circle", 330, 759, "#000")
xtitle(7, "VE BTPS", GREEN_TXT)

# ---------------- Plot 8: RER ----------------
time_x(8, AXGRAY)
set_y(8, **axis(AXGRAY, GREEN_TXT, range=[0.6, 1.3], dtick=0.1, tick0=0.6,
                 tickformat=".1f", minor=minor(0.05, GREEN_TXT, tick0=0.6)))
events(8, EV_TIME)
pts(8, TIME, RER, symbol="diamond", color=M_GREEN, size=10)
title(8, "Plot 8")
text(400, 750, "RER", GREEN_HDR)
glyph("diamond", 400, 760, M_GREEN)
xtitle(8, "Time")

# ---------------- Plot 9: end-tidal gases and SpO2 ----------------
time_x(9, AXGRAY)
set_y(9, **axis(AXGRAY, RED_TXT, range=[0, 140], dtick=14,
                 minor=minor(7, RED_TXT)))
set_y2(9, 16, "left", showgrid=False, zeroline=False, showline=False,
       range=[0, 140], tickvals=[14, 28, 42, 56, 70, 84, 98, 112, 126, 140],
       ticks="inside", ticklen=5, tickcolor=BLUE_TXT,
       ticklabelposition="inside", fixedrange=True,
       tickfont=dict(family=FONT, size=FS, color=BLUE_TXT))
set_y2(9, 17, "right", **axis(AXGRAY, "#3c9c3c", range=[0, 100], dtick=10,
                               minor=minor(5, "#3c9c3c")))
events(9, EV_TIME)
pts(9, TIME, SPO2, yaxis="y17", symbol="circle", color="#1a7a1a", size=7.5)
pts(9, TIME, PETO2, symbol="circle", color=M_RED, size=7.5)
pts(9, TIME, PETCO2, yaxis="y16", symbol="square", color=M_BLUE, size=6.5)
title(9, "Plot 9")
text(706, 749, "PETO2", RED_TXT)
text(750, 749, "PETCO2", BLUE_TXT)
glyph("circle", 743, 759, M_RED, s=3)
glyph("square", 749, 758, M_BLUE, s=2.5, filled=False)
text(751, 1047, "0", BLUE_TXT)
text(753, 771, "140", BLUE_TXT)
text(1014, 749, "SpO2", "#3c9c3c", anchor="right")
glyph("circle", 1017, 759, "#1a7a1a", s=2)
xtitle(9, "Time")

# ---------------- panel frames ----------------
FRAME = "#3a3a3a"
for x in (22, 365, 708, 1049):
    xf = min(fx(x), 1 - 1.0 / W)
    shapes.append(dict(type="line", xref="paper", yref="paper",
                       x0=xf, x1=xf, y0=0, y1=fy(7),
                       line=dict(color=FRAME, width=2)))
for y in (7, 373, 739):
    yf = min(fy(y), 1 - 1.0 / H)
    shapes.append(dict(type="line", xref="paper", yref="paper",
                       x0=fx(22), x1=min(fx(1049), 1 - 1.0 / W), y0=yf, y1=yf,
                       line=dict(color=FRAME, width=2)))

fig.update_layout(
    width=W, height=H, autosize=False,
    margin=dict(l=0, r=0, t=0, b=0, pad=0),
    paper_bgcolor="white", plot_bgcolor="white",
    font=dict(family=FONT, size=FS, color="#222"),
    showlegend=False,
    shapes=shapes, annotations=annotations,
    **layout_axes,
)

fig.write_html("out.html", config={"displayModeBar": False})
